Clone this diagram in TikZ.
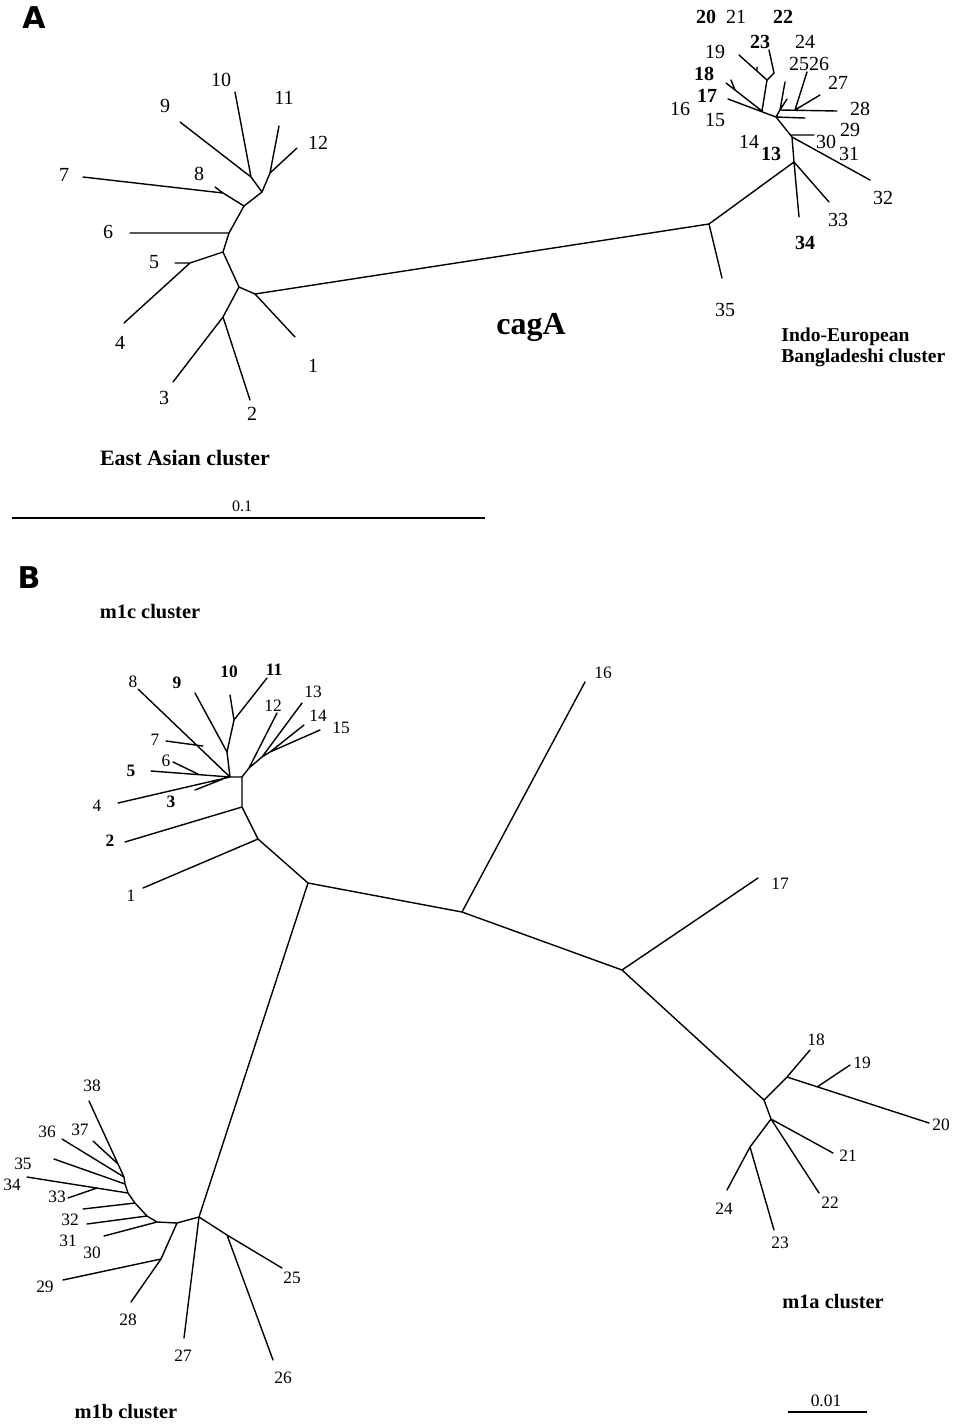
\documentclass[tikz,border=0pt]{standalone}
\usepackage{fontspec}
\setmainfont{Liberation Serif}
\newfontfamily\panelfont{DejaVu Sans}
\begin{document}
\begin{tikzpicture}[x=0.5pt,y=-0.5pt,
  br/.style={line width=0.7pt,line cap=round,line join=round},
  bar/.style={line width=1pt},
  la/.style={inner sep=0pt,font=\fontsize{10}{10}\selectfont},
  lab/.style={la,font=\fontsize{10}{10}\selectfont\bfseries},
  lb/.style={inner sep=0pt,font=\fontsize{8.7}{9}\selectfont},
  lbb/.style={lb,font=\fontsize{8.7}{9}\selectfont\bfseries},
  clus/.style={inner sep=0pt,font=\fontsize{10.2}{12}\selectfont\bfseries,align=left},
  panel/.style={inner sep=0pt,font=\panelfont\fontsize{15}{15}\selectfont\bfseries}]
\useasboundingbox (0,0) rectangle (954,1426);
\fill[white] (0,0) rectangle (954,1426);

% ================= Panel A =================
\node[panel] (pA) at (34,18) {A};
% --- East Asian cluster
\coordinate (aR) at (255,294);
\coordinate (aN1) at (239,287);
\coordinate (aN2) at (223,317);
\coordinate (aN3) at (223,252);
\coordinate (aN4) at (190,263);
\coordinate (aN5) at (229,233);
\coordinate (aN6) at (244,206);
\coordinate (aN7) at (223,193);
\coordinate (aN8) at (262,192);
\coordinate (aN9) at (251,177);
\coordinate (aN10) at (270,173);
\coordinate (a1) at (295,337);
\coordinate (a2) at (250,400);
\coordinate (a3) at (173,382);
\coordinate (a4) at (124,323);
\coordinate (a5) at (175,263);
\coordinate (a6) at (130,233);
\coordinate (a7) at (83,177);
\coordinate (a8) at (215,187);
\coordinate (a9) at (180,122);
\coordinate (a10) at (235,92);
\coordinate (a11) at (279,126);
\coordinate (a12) at (297,148);
\draw[br] (aR)--(aN1) (aR)--(a1) (aN1)--(aN2) (aN2)--(a3) (aN2)--(a2)
  (aN1)--(aN3) (aN3)--(aN4) (aN4)--(a5) (aN4)--(a4) (aN3)--(aN5) (aN5)--(a6)
  (aN5)--(aN6) (aN6)--(aN7) (aN7)--(a8) (aN7)--(a7) (aN6)--(aN8) (aN8)--(aN9)
  (aN9)--(a9) (aN9)--(a10) (aN8)--(aN10) (aN10)--(a11) (aN10)--(a12);
% --- Indo-European cluster
\coordinate (rR0) at (709,224);
\coordinate (r35) at (722,278);
\coordinate (rN1) at (794,162);
\coordinate (r34) at (799,217);
\coordinate (r33) at (829,202);
\coordinate (rN2) at (792,137);
\coordinate (r32) at (870,180);
\coordinate (r30a) at (790,135);
\coordinate (r30) at (814,135);
\coordinate (rN3) at (776,117);
\coordinate (ra) at (805,118);
\coordinate (rN4) at (780,110);
\coordinate (rb) at (785,82);
\coordinate (rc) at (787,99);
\coordinate (rN5) at (795,110);
\coordinate (r28) at (837,111);
\coordinate (r2526) at (807,72);
\coordinate (r27) at (820,95);
\coordinate (r15) at (728,99);
\coordinate (rN6) at (762,111);
\coordinate (r18) at (726,83);
\coordinate (rT1) at (735,90);
\coordinate (rt1) at (731,80);
\coordinate (rN7) at (767,80);
\coordinate (rN8) at (774,73);
\coordinate (r23) at (769,50);
\coordinate (r19) at (739,55);
\coordinate (rT2) at (757,67);
\coordinate (rt2) at (757,71);
\draw[br] (aR)--(rR0);
\draw[br] (rR0)--(r35) (rR0)--(rN1) (rN1)--(r34) (rN1)--(r33) (rN1)--(rN2)
  (rN2)--(r32) (r30a)--(r30) (rN2)--(rN3) (rN3)--(ra) (rN3)--(rN4) (rN4)--(rb)
  (rN4)--(rc) (rN4)--(r28) (rN5)--(r2526) (rN5)--(r27) (rN3)--(r15)
  (rN6)--(r18) (rT1)--(rt1) (rN6)--(rN7) (rN7)--(rN8) (rN8)--(r23)
  (rN7)--(r19) (rT2)--(rt2);
% labels A
\node[la] (tA1) at (313,366) {1};
\node[la] (tA2) at (252,414) {2};
\node[la] (tA3) at (164,398) {3};
\node[la] (tA4) at (120,343) {4};
\node[la] (tA5) at (154,262) {5};
\node[la] (tA6) at (108,232) {6};
\node[la] (tA7) at (64,175) {7};
\node[la] (tA8) at (199,174) {8};
\node[la] (tA9) at (165,106) {9};
\node[la] (tA10) at (221,80) {10};
\node[la] (tA11) at (284,98) {11};
\node[la] (tA12) at (318,143) {12};
\node[lab] (tA20) at (706,17) {20};
\node[la] (tA21) at (736,17) {21};
\node[lab] (tA22) at (783,17) {22};
\node[lab] (tA23) at (760,42) {23};
\node[la] (tA24) at (805,42) {24};
\node[la] (tA19) at (715,52) {19};
\node[la] (tA2526) at (809,64) {2526};
\node[lab] (tA18) at (704,74) {18};
\node[la] (tA27) at (838,83) {27};
\node[lab] (tA17) at (707,96) {17};
\node[la] (tA16) at (680,109) {16};
\node[la] (tA28) at (860,109) {28};
\node[la] (tA15) at (715,120) {15};
\node[la] (tA29) at (850,130) {29};
\node[la] (tA30) at (826,142) {30};
\node[la] (tA31) at (849,154) {31};
\node[la] (tA14) at (749,142) {14};
\node[lab] (tA13) at (771,154) {13};
\node[la] (tA32) at (883,198) {32};
\node[la] (tA33) at (838,220) {33};
\node[lab] (tA34) at (805,243) {34};
\node[la] (tA35) at (725,310) {35};
\node[inner sep=0pt,font=\fontsize{16}{16}\selectfont\bfseries] (cag) at (531,327) {cagA};
\node[clus,font=\fontsize{9.8}{11.5}\selectfont\bfseries,anchor=north west] (ieb) at (781,327) {Indo-European\\[-1pt]Bangladeshi cluster};
\node[clus,font=\fontsize{11}{12}\selectfont\bfseries] (eas) at (185,458) {East Asian cluster};
\coordinate (sA1) at (12,518);
\coordinate (sA2) at (485,518);
\draw[bar] (sA1)--(sA2);
\node[la,font=\fontsize{8}{8}\selectfont] (sAt) at (242,506) {0.1};

% ================= Panel B =================
\node[panel] (pB) at (29,578) {B};
\node[clus] (m1c) at (150,612) {m1c cluster};
% backbone
\coordinate (bR) at (308,883);
\coordinate (bN1) at (462,912);
\coordinate (b16) at (585,682);
\coordinate (bN2) at (622,970);
\coordinate (b17) at (758,878);
\coordinate (bN3) at (764,1100);
\coordinate (bN4) at (787,1077);
\coordinate (b18) at (810,1050);
\coordinate (bN5) at (817,1087);
\coordinate (b19) at (850,1065);
\coordinate (b20) at (929,1123);
\coordinate (bN6) at (771,1119);
\coordinate (b21) at (833,1153);
\coordinate (b22) at (819,1193);
\coordinate (bN7) at (750,1147);
\coordinate (b24) at (727,1190);
\coordinate (b23) at (774,1230);
\draw[br] (bR)--(bN1) (bN1)--(b16) (bN1)--(bN2) (bN2)--(b17) (bN2)--(bN3)
  (bN3)--(bN4) (bN4)--(b18) (bN4)--(b20) (bN5)--(b19) (bN3)--(bN6)
  (bN6)--(b21) (bN6)--(b22) (bN6)--(bN7) (bN7)--(b24) (bN7)--(b23);
% m1c cluster
\coordinate (bC) at (258,839);
\coordinate (b1) at (143,888);
\coordinate (bC2) at (242,807);
\coordinate (b2) at (125,842);
\coordinate (bC3) at (242,777);
\coordinate (bC4) at (230,777);
\coordinate (b4) at (118,803);
\coordinate (bN34) at (223,779);
\coordinate (b3) at (195,790);
\coordinate (b5) at (151,771);
\coordinate (bN56) at (198,774);
\coordinate (b6) at (173,762);
\coordinate (b8) at (138,689);
\coordinate (bN78) at (203,746);
\coordinate (b7) at (166,741);
\coordinate (bN9) at (227,752);
\coordinate (b9) at (195,693);
\coordinate (bN10) at (234,720);
\coordinate (b10) at (230,695);
\coordinate (b11) at (267,678);
\coordinate (bN12) at (249,768);
\coordinate (b12) at (277,713);
\coordinate (bN13) at (262,757);
\coordinate (b13) at (302,703);
\coordinate (bN14) at (270,752);
\coordinate (b14) at (304,725);
\coordinate (b15) at (320,730);
\draw[br] (bR)--(bC) (bC)--(b1) (bC)--(bC2) (bC2)--(b2) (bC2)--(bC3)
  (bC3)--(bC4) (bC4)--(b4) (bN34)--(b3) (bC4)--(b5) (bN56)--(b6)
  (bC4)--(b8) (bN78)--(b7) (bC4)--(bN9) (bN9)--(b9) (bN9)--(bN10)
  (bN10)--(b10) (bN10)--(b11) (bC3)--(bN12) (bN12)--(b12) (bN12)--(bN13)
  (bN13)--(b13) (bN13)--(bN14) (bN14)--(b14) (bN14)--(b15);
% m1b cluster
\coordinate (bB0) at (199,1217);
\coordinate (bN25) at (227,1235);
\coordinate (b25) at (282,1268);
\coordinate (b26) at (273,1360);
\coordinate (b27) at (184,1338);
\coordinate (bB1) at (177,1223);
\coordinate (bN28) at (161,1259);
\coordinate (b29) at (63,1280);
\coordinate (b28) at (131,1302);
\coordinate (bB2) at (157,1222);
\coordinate (b30) at (104,1236);
\coordinate (bB3) at (147,1216);
\coordinate (b31) at (87,1224);
\coordinate (bB4) at (135,1203);
\coordinate (b32) at (83,1209);
\coordinate (bB5) at (128,1193);
\coordinate (b34) at (27,1177);
\coordinate (bN33) at (97,1188);
\coordinate (b33) at (68,1198);
\coordinate (bB6) at (125,1184);
\coordinate (b35) at (54,1159);
\coordinate (bB7) at (124,1177);
\coordinate (b36) at (62,1139);
\coordinate (b38) at (89,1101);
\coordinate (bN37) at (118,1164);
\coordinate (b37) at (93,1141);
\draw[br] (bR)--(bB0) (bB0)--(bN25) (bN25)--(b25) (bN25)--(b26) (bB0)--(b27)
  (bB0)--(bB1) (bB1)--(bN28) (bN28)--(b29) (bN28)--(b28) (bB1)--(bB2)
  (bB2)--(b30) (bB2)--(bB3) (bB3)--(b31) (bB3)--(bB4) (bB4)--(b32)
  (bB4)--(bB5) (bB5)--(b34) (bN33)--(b33) (bB5)--(bB6) (bB6)--(b35)
  (bB6)--(bB7) (bB7)--(b36) (bB7)--(b38) (bN37)--(b37);
% labels B
\node[lb] (tB1) at (131,896) {1};
\node[lbb] (tB2) at (110,841) {2};
\node[lbb] (tB3) at (171,802) {3};
\node[lb] (tB4) at (97,806) {4};
\node[lbb] (tB5) at (131,771) {5};
\node[lb] (tB6) at (166,761) {6};
\node[lb] (tB7) at (155,740) {7};
\node[lb] (tB8) at (133,682) {8};
\node[lbb] (tB9) at (177,683) {9};
\node[lbb] (tB10) at (229,672) {10};
\node[lbb] (tB11) at (274,670) {11};
\node[lb] (tB12) at (273,706) {12};
\node[lb] (tB13) at (313,692) {13};
\node[lb] (tB14) at (318,716) {14};
\node[lb] (tB15) at (341,728) {15};
\node[lb] (tB16) at (603,673) {16};
\node[lb] (tB17) at (780,884) {17};
\node[lb] (tB18) at (816,1040) {18};
\node[lb] (tB19) at (862,1063) {19};
\node[lb] (tB20) at (941,1125) {20};
\node[lb] (tB21) at (848,1156) {21};
\node[lb] (tB22) at (830,1203) {22};
\node[lb] (tB23) at (780,1243) {23};
\node[lb] (tB24) at (724,1209) {24};
\node[lb] (tB25) at (292,1278) {25};
\node[lb] (tB26) at (283,1378) {26};
\node[lb] (tB27) at (183,1356) {27};
\node[lb] (tB28) at (128,1320) {28};
\node[lb] (tB29) at (45,1287) {29};
\node[lb] (tB30) at (92,1253) {30};
\node[lb] (tB31) at (68,1241) {31};
\node[lb] (tB32) at (70,1220) {32};
\node[lb] (tB33) at (57,1197) {33};
\node[lb] (tB34) at (12,1185) {34};
\node[lb] (tB35) at (23,1164) {35};
\node[lb] (tB36) at (47,1132) {36};
\node[lb] (tB37) at (80,1130) {37};
\node[lb] (tB38) at (92,1086) {38};
\node[clus] (m1a) at (833,1302) {m1a cluster};
\node[clus] (m1b) at (126,1412) {m1b cluster};
\coordinate (sB1) at (788,1412);
\coordinate (sB2) at (867,1412);
\draw[bar] (sB1)--(sB2);
\node[lb] (sBt) at (826,1401) {0.01};
\end{tikzpicture}
\end{document}
